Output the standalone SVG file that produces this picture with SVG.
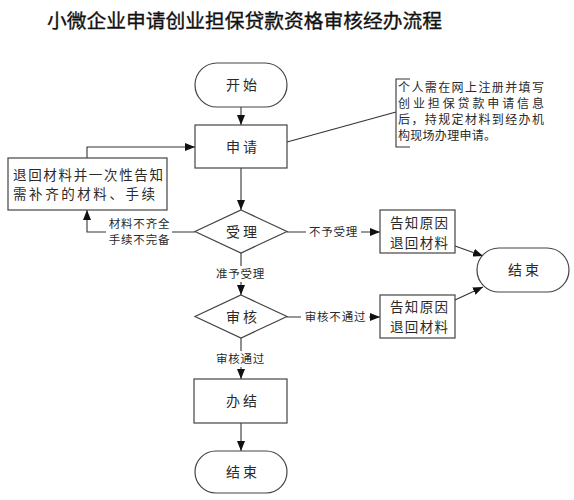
<svg xmlns="http://www.w3.org/2000/svg" width="574" height="500" viewBox="0 0 574 500">
<defs>
<style>
text{font-family:"Noto Sans CJK SC","Noto Sans",sans-serif;fill:#2a2a2a;}
.title{font-size:19.75px;fill:#111;stroke:#111;stroke-width:0.35;}
.node{fill:#fff;stroke:#444;stroke-width:1.2;}
.nt{font-size:14px;letter-spacing:3px;text-anchor:middle;}
.bt{font-size:13.5px;}
.lbl{font-size:11.5px;letter-spacing:0.8px;text-anchor:middle;}
.note{font-size:12px;}
.conn{fill:none;stroke:#333;stroke-width:1.1;}
.bg{fill:#fff;}
</style>
<marker id="arr" markerUnits="userSpaceOnUse" markerWidth="10" markerHeight="8" refX="10" refY="4" orient="auto">
<path d="M0,0 L10,4 L0,8 z" fill="#111"/>
</marker>
</defs>
<rect width="574" height="500" fill="#fff"/>
<text class="title" x="244.5" y="27.5" text-anchor="middle">小微企业申请创业担保贷款资格审核经办流程</text>

<g id="connectors">
<path class="conn" d="M241,107 V125" marker-end="url(#arr)"/>
<path class="conn" d="M241,168 V210" marker-end="url(#arr)"/>
<path class="conn" d="M241,253 V295" marker-end="url(#arr)"/>
<path class="conn" d="M241,338 V379" marker-end="url(#arr)"/>
<path class="conn" d="M241,423 V451" marker-end="url(#arr)"/>
<path class="conn" d="M195,232 H87 V210" marker-end="url(#arr)"/>
<path class="conn" d="M87,158 V147 H195" marker-end="url(#arr)"/>
<path class="conn" d="M287,232 H380" marker-end="url(#arr)"/>
<path class="conn" d="M287,317 H380" marker-end="url(#arr)"/>
<path class="conn" d="M455,246 L483,256" marker-end="url(#arr)"/>
<path class="conn" d="M455,300 L483,287" marker-end="url(#arr)"/>
<path class="conn" d="M287,142 L396,112"/>
<path class="conn" d="M410,79 H396 V147 H410"/>
<rect class="bg" x="106" y="216" width="66" height="32"/>
<text class="lbl" x="139.5" y="228.2">材料不齐全</text>
<text class="lbl" x="139.5" y="244">手续不完备</text>
<rect class="bg" x="213" y="266" width="55" height="16"/>
<text class="lbl" x="240.5" y="278.4">准予受理</text>
<rect class="bg" x="213" y="351" width="55" height="16"/>
<text class="lbl" x="240.5" y="363.4">审核通过</text>
<rect class="bg" x="306" y="224" width="55" height="16"/>
<text class="lbl" x="333.5" y="236.4">不予受理</text>
<rect class="bg" x="301" y="309" width="68" height="16"/>
<text class="lbl" x="335.5" y="321.4">审核不通过</text>
</g>

<g id="start">
<rect class="node" x="195" y="63" width="92" height="44" rx="22" ry="22"/>
<text class="nt" x="243" y="90.3">开始</text>
</g>
<g id="apply">
<rect class="node" x="195" y="125" width="92" height="43"/>
<text class="nt" x="243" y="152.3">申请</text>
</g>
<g id="accept">
<polygon class="node" points="241,210 287,231.5 241,253 195,231.5"/>
<text class="nt" x="243" y="237">受理</text>
</g>
<g id="return-materials">
<rect class="node" x="8" y="158" width="159" height="52"/>
<text class="bt" x="13" y="179.8" textLength="150" lengthAdjust="spacing">退回材料并一次性告知</text>
<text class="bt" x="13" y="198.6" textLength="142" lengthAdjust="spacing">需补齐的材料、手续</text>
</g>
<g id="reject1">
<rect class="node" x="380" y="210" width="75" height="43"/>
<text class="bt" x="390" y="228" textLength="58" lengthAdjust="spacing">告知原因</text>
<text class="bt" x="390" y="247.5" textLength="58" lengthAdjust="spacing">退回材料</text>
</g>
<g id="review">
<polygon class="node" points="241,295 287,316.5 241,338 195,316.5"/>
<text class="nt" x="243" y="322">审核</text>
</g>
<g id="reject2">
<rect class="node" x="380" y="295" width="75" height="43"/>
<text class="bt" x="390" y="312" textLength="58" lengthAdjust="spacing">告知原因</text>
<text class="bt" x="390" y="331.5" textLength="58" lengthAdjust="spacing">退回材料</text>
</g>
<g id="end-right">
<rect class="node" x="477" y="248" width="92" height="44" rx="22" ry="22"/>
<text class="nt" x="525" y="275.3">结束</text>
</g>
<g id="finish">
<rect class="node" x="194" y="379" width="93" height="44"/>
<text class="nt" x="243" y="406.3">办结</text>
</g>
<g id="end-bottom">
<rect class="node" x="195" y="451" width="92" height="42" rx="21" ry="21"/>
<text class="nt" x="243" y="477.3">结束</text>
</g>
<g id="note">
<text class="note" x="398" y="91.5" textLength="146" lengthAdjust="spacing">个人需在网上注册并填写</text>
<text class="note" x="398" y="107.5" textLength="146" lengthAdjust="spacing">创业担保贷款申请信息</text>
<text class="note" x="398" y="123.5" textLength="146" lengthAdjust="spacing">后，持规定材料到经办机</text>
<text class="note" x="398" y="139.5" textLength="98" lengthAdjust="spacing">构现场办理申请。</text>
</g>
</svg>
